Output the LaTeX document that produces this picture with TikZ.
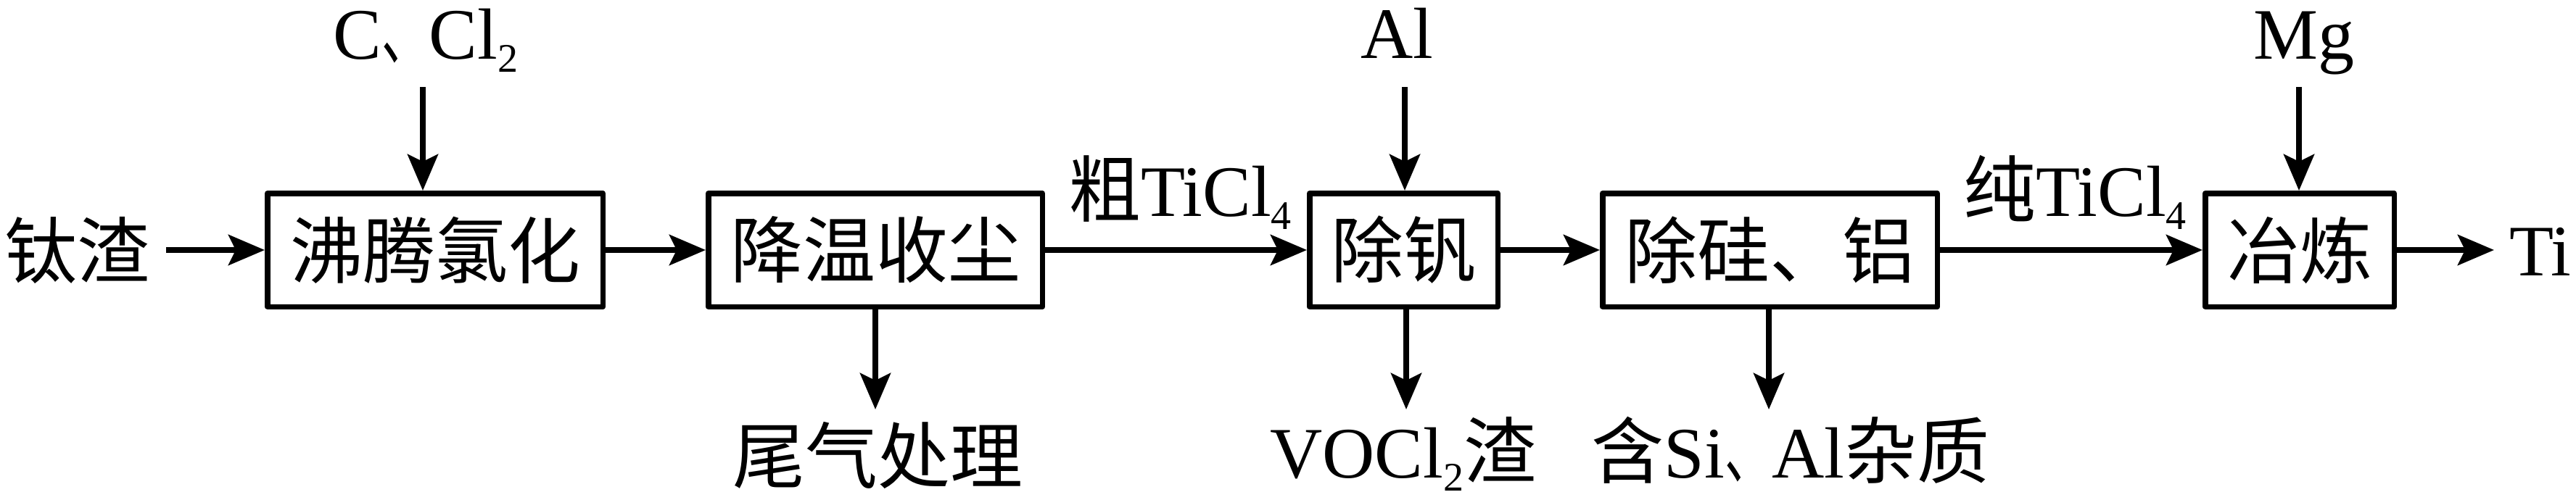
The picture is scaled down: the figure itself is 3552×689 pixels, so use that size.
\documentclass[tikz,border=0pt]{standalone}
\usepackage{fontspec}
\usepackage{graphicx}
\setmainfont{Liberation Serif}
\newfontfamily\zhfont{Noto Sans CJK SC}
\newcommand{\zh}[1]{{\zhfont #1}}
\newcommand{\dun}{\scalebox{0.65}[1]{\zh{、}}}
\newcommand{\sbs}[1]{\raisebox{-18pt}{\fontsize{56}{60}\selectfont #1}}
\usetikzlibrary{arrows.meta}
\tikzset{
  lbl/.style={inner sep=0pt, font=\fontsize{100}{120}\selectfont},
  procbox/.style={draw, line width=7.5pt, line join=round, inner sep=0pt,
    minimum height=156.5pt, font=\fontsize{100}{120}\selectfont},
  arr/.style={line width=7.5pt, -{Stealth[length=50pt,width=42pt,inset=10pt]}}
}
\begin{document}
\begin{tikzpicture}[x=1pt,y=-1pt]
\useasboundingbox[fill=white] (0,0) rectangle (3552,689);
% boxes
\node[procbox, minimum width=462.5pt] (b1) at (600,345) {\zh{沸腾氯化}};
\node[procbox, minimum width=460.5pt] (b2) at (1207,345) {\zh{降温收尘}};
\node[procbox, minimum width=259.5pt] (b3) at (1935.5,345) {\zh{除钒}};
\node[procbox, minimum width=461.5pt] (b4) at (2440.5,345) {\zh{除硅、铝}};
\node[procbox, minimum width=260.5pt] (b5) at (3171,345) {\zh{冶炼}};
% labels
\node[lbl] (tz) at (106,345) {\zh{钛渣}};
\node[lbl, anchor=base] (ccl) at (587,81) {C\dun Cl\sbs{2}};
\node[lbl, anchor=base] (al) at (1926,80) {Al};
\node[lbl, anchor=base] (mg) at (3177,81) {Mg};
\node[lbl, anchor=base] (cu) at (1627,298) {\zh{粗}TiCl\sbs{4}};
\node[lbl, anchor=base] (chun) at (2861,298) {\zh{纯}TiCl\sbs{4}};
\node[lbl, anchor=base west] (ti) at (3460,380) {Ti};
\node[lbl] (wq) at (1210,628) {\zh{尾气处理}};
\node[lbl, anchor=base] (vo) at (1935,659) {VOCl\sbs{2}\zh{渣}};
\node[lbl, anchor=base] (si) at (2469,659) {\zh{含}Si\dun Al\zh{杂质}};
% free ends
\coordinate (s0) at (229,345);
\coordinate (s1) at (583,120);
\coordinate (s3) at (1937,120);
\coordinate (s5) at (3170,120);
\coordinate (e2) at (1207,565);
\coordinate (e3) at (1939,565);
\coordinate (e4) at (2439,565);
\coordinate (e5) at (3439,345);
% connectors
\draw[arr] (s0) -- (b1.west);
\draw[arr] (s1) -- (s1 |- b1.north);
\draw[arr] (b1.east) -- (b2.west);
\draw[arr] (b2.east) -- (b3.west);
\draw[arr] (s3) -- (s3 |- b3.north);
\draw[arr] (b3.east) -- (b4.west);
\draw[arr] (b4.east) -- (b5.west);
\draw[arr] (s5) -- (s5 |- b5.north);
\draw[arr] (b5.east) -- (e5);
\draw[arr] (e2 |- b2.south) -- (e2);
\draw[arr] (e3 |- b3.south) -- (e3);
\draw[arr] (e4 |- b4.south) -- (e4);
\end{tikzpicture}
\end{document}
